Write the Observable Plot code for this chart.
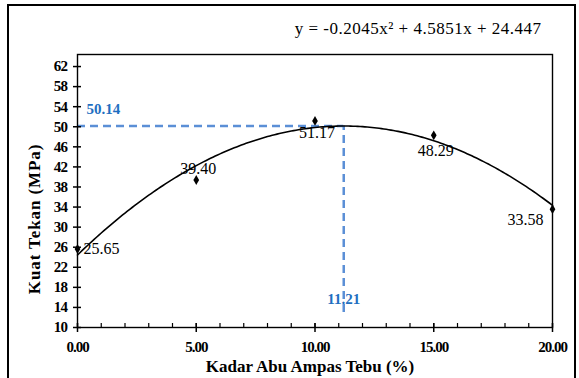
<!DOCTYPE html>
<html>
<head>
<meta charset="utf-8">
<script src="https://cdn.jsdelivr.net/npm/d3@7"></script>
<script src="https://cdn.jsdelivr.net/npm/@observablehq/plot@0.6"></script>
<style>
  html, body { margin: 0; padding: 0; background: #fff; }
  #chart svg { display: block; }
  #chart svg, #chart svg text { font-family: "Liberation Serif", "Times New Roman", serif !important; }
  #chart .ytick-label text { letter-spacing: -0.6px; }
  #chart .xtick-label text { letter-spacing: -1px; }
  #chart .ytitle text { letter-spacing: 0.9px; }
  #chart .equation text { letter-spacing: 0.5px; }
</style>
</head>
<body>
<div id="chart"></div>
<script>
// ---- data ----
const kadar = [0, 5, 10, 15, 20];                       // Kadar Abu Ampas Tebu (%)
const kuatTekan = [25.65, 39.40, 51.17, 48.29, 33.58];  // Kuat Tekan (MPa)
const trendCoef = [-0.2045, 4.5851, 24.447];            // y = a x^2 + b x + c
const optimumX = 11.21;
const optimumY = 50.14;
const yTicks = [10, 14, 18, 22, 26, 30, 34, 38, 42, 46, 50, 54, 58, 62];
const xMajorTicks = [0, 5, 10, 15, 20];
const xMinorTicks = d3.range(0, 21, 1);
const equationText = "y = -0.2045x² + 4.5851x + 24.447";
const xTitle = "Kadar Abu Ampas Tebu (%)";
const yTitle = "Kuat Tekan (MPa)";

const points = kadar.map((x, i) => ({x, y: kuatTekan[i], label: kuatTekan[i].toFixed(2)}));
const [a, b, c] = trendCoef;
const trend = d3.range(0, 20.0001, 0.1).map(x => ({x, y: a * x * x + b * x + c}));

// label placement (style)
const labelOffsets = [
  {dx: 6, dy: 0, anchor: "start"},
  {dx: 2, dy: -11, anchor: "middle"},
  {dx: 2, dy: 12, anchor: "middle"},
  {dx: 2, dy: 16, anchor: "middle"},
  {dx: -9, dy: 11, anchor: "end"}
];

const serif = "Liberation Serif, Times New Roman, serif";
const blueText = "#1f6fc1";
const blueLine = "#5b8fd6";

const labelMarks = points.map((p, i) => Plot.text([p], {
  x: "x", y: "y", text: "label",
  dx: labelOffsets[i].dx, dy: labelOffsets[i].dy, textAnchor: labelOffsets[i].anchor,
  fontSize: 16, fill: "black", fontFamily: serif
}));

const chart = Plot.plot({
  width: 579,
  height: 378,
  marginLeft: 77,
  marginRight: 27,
  marginTop: 54,
  marginBottom: 51,
  style: {background: "white", overflow: "visible"},
  x: {domain: [0, 20]},
  y: {domain: [10, 64.4]},
  marks: [
    // blue guide lines
    Plot.ruleY([optimumY], {x1: 0, x2: optimumX, stroke: blueLine, strokeWidth: 2.5, strokeDasharray: "8,5"}),
    Plot.ruleX([optimumX], {y1: 13, y2: optimumY, stroke: blueLine, strokeWidth: 2.5, strokeDasharray: "8,5"}),
    // trend line
    Plot.line(trend, {x: "x", y: "y", stroke: "black", strokeWidth: 1.6, curve: "linear"}),
    // points
    Plot.dot(points, {x: "x", y: "y", symbol: "diamond", r: 3, fill: "black"}),
    ...labelMarks,
    // blue labels
    Plot.text([optimumY], {x: 0, y: d => d, text: d => d.toFixed(2), dx: 9, dy: -17, textAnchor: "start",
      fill: blueText, fontWeight: "bold", fontSize: 15, fontFamily: serif}),
    Plot.text([optimumX], {x: d => d, y: 10, text: d => d.toFixed(2), dy: -28, textAnchor: "middle",
      fill: blueText, fontWeight: "bold", fontSize: 15, fontFamily: serif}),
    // frame
    Plot.frame({stroke: "black", strokeWidth: 1.4}),
    // y axis ticks (crossing) and labels
    Plot.axisY({ticks: yTicks, tickSize: 8, dx: 4, tickFormat: () => "", strokeWidth: 1.5, label: null}),
    Plot.axisY({ticks: yTicks, tickSize: 0, tickPadding: 10, fontSize: 15, fontWeight: "bold", fill: "black",
      label: null, fontFamily: serif, className: "ytick-label"}),
    // x axis ticks
    Plot.axisX({ticks: xMinorTicks, tickSize: 4, dy: -4, tickFormat: () => "", strokeWidth: 1.2, label: null}),
    Plot.axisX({ticks: xMajorTicks, tickSize: 9, dy: -4, tickFormat: () => "", strokeWidth: 1.5, label: null}),
    Plot.axisX({ticks: xMajorTicks, tickSize: 0, tickPadding: 14, tickFormat: d => d.toFixed(2),
      fontSize: 15, fontWeight: "bold", fill: "black", label: null, fontFamily: serif, className: "xtick-label"}),
    // axis titles
    Plot.text([xTitle], {frameAnchor: "bottom", text: d => d, textAnchor: "middle", dx: -5, dy: 44,
      fontSize: 17, fontWeight: "bold", fill: "black", fontFamily: serif}),
    Plot.text([yTitle], {frameAnchor: "left", text: d => d, textAnchor: "middle", rotate: -90, dx: -43, dy: 28,
      fontSize: 17, fontWeight: "bold", fill: "black", fontFamily: serif, className: "ytitle"}),
    // equation
    Plot.text([equationText], {frameAnchor: "top-right", text: d => d, dx: -11, dy: -33, textAnchor: "end",
      fontSize: 17, fill: "black", fontFamily: serif, className: "equation"})
  ]
});

const svg = d3.select(chart);
svg.append("rect")
  .attr("x", 8).attr("y", 5).attr("width", 567).attr("height", 400)
  .attr("fill", "none").attr("stroke", "black").attr("stroke-width", 2);

document.getElementById("chart").appendChild(chart);
</script>
</body>
</html>
